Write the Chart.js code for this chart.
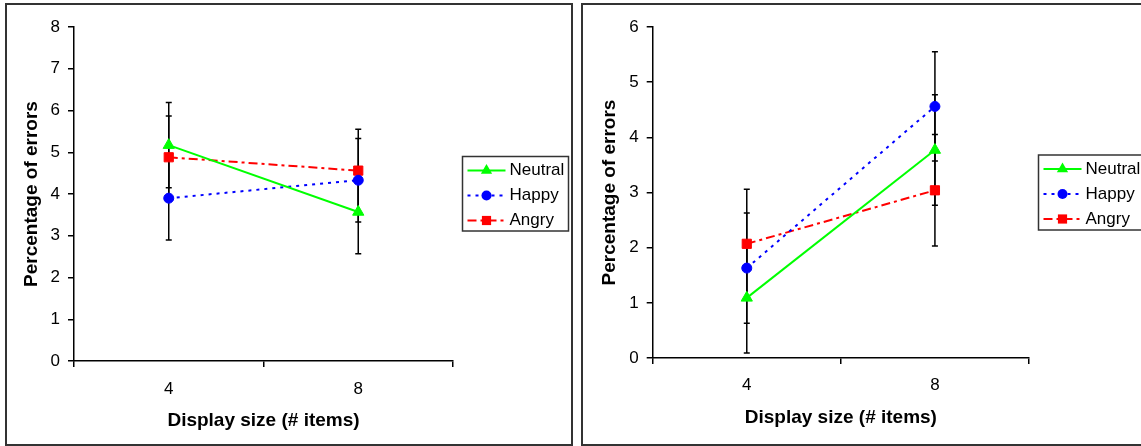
<!DOCTYPE html>
<html>
<head>
<meta charset="utf-8">
<script src="https://cdn.jsdelivr.net/npm/chart.js@4.4.1/dist/chart.umd.min.js"></script>
<style>
html, body { margin: 0; padding: 0; background: #fff; }
#wrap { position: relative; width: 1141px; height: 446px; overflow: hidden; }
.frame { position: absolute; border: 2px solid #333; box-sizing: border-box; }
.box { position: absolute; top: 0; height: 446px; }
</style>
</head>
<body>
<div id="wrap">
  <div class="frame" style="left:5px;top:3px;width:568px;height:443px"></div>
  <div class="frame" style="left:581px;top:3px;width:570px;height:443px"></div>
  <div class="box" style="left:0;width:576px"><canvas id="leftChart" width="576" height="446"></canvas></div>
  <div class="box" style="left:576px;width:565px"><canvas id="rightChart" width="565" height="446"></canvas></div>
</div>
<script>
// Data
const displaySizes = ['4', '8'];
const seriesNames = ['Neutral', 'Happy', 'Angry'];

const leftNeutral = [5.17, 3.57];
const leftHappy = [3.90, 4.33];
const leftAngry = [4.88, 4.56];
const leftNeutralErr = [1.02, 1.00];
const leftHappyErr = [1.00, 1.00];
const leftAngryErr = [0.99, 0.99];

const rightNeutral = [1.09, 3.77];
const rightHappy = [1.63, 4.56];
const rightAngry = [2.07, 3.04];
const rightNeutralErr = [1.00, 1.00];
const rightHappyErr = [1.00, 0.99];
const rightAngryErr = [0.99, 1.01];

const FONT = 'Arial, "Liberation Sans", sans-serif';
Chart.defaults.font.family = FONT;
Chart.defaults.color = '#000';

// Line look per series
const lineStyles = [
    { color: '#00ff00', dash: [], point: 'triangle', radius: 6.5 },
    { color: '#0000ff', dash: [3, 5], point: 'circle', radius: 5 },
    { color: '#ff0000', dash: [9, 4, 3, 4], point: 'rect', radius: 6.5 }
];

// Draw a marker by hand for the legend
function drawMarker(ctx, style, x, y, r, color) {
    ctx.fillStyle = color;
    ctx.beginPath();
    if (style === 'triangle') {
        ctx.moveTo(x, y - r);
        ctx.lineTo(x + r * 0.866, y + r * 0.5);
        ctx.lineTo(x - r * 0.866, y + r * 0.5);
        ctx.closePath();
    } else if (style === 'rect') {
        const s = r * Math.SQRT1_2;
        ctx.rect(x - s, y - s, 2 * s, 2 * s);
    } else {
        ctx.arc(x, y, r, 0, Math.PI * 2);
    }
    ctx.fill();
}

// Error bars under the lines
const errorBars = {
    id: 'errorBars',
    beforeDatasetsDraw(chart) {
        const ctx = chart.ctx;
        const y = chart.scales.y;
        ctx.save();
        ctx.strokeStyle = '#000';
        ctx.lineWidth = 1.5;
        chart.data.datasets.forEach((ds, i) => {
            const meta = chart.getDatasetMeta(i);
            meta.data.forEach((pt, j) => {
                const v = ds.data[j], e = ds.errors[j];
                const top = y.getPixelForValue(v + e);
                const bot = y.getPixelForValue(v - e);
                ctx.beginPath();
                ctx.moveTo(pt.x, top); ctx.lineTo(pt.x, bot);
                ctx.moveTo(pt.x - 3, top); ctx.lineTo(pt.x + 3, top);
                ctx.moveTo(pt.x - 3, bot); ctx.lineTo(pt.x + 3, bot);
                ctx.stroke();
            });
        });
        ctx.restore();
    }
};

// Boxed legend on the right
const boxLegend = {
    id: 'boxLegend',
    afterDraw(chart, args, opts) {
        const ctx = chart.ctx;
        ctx.save();
        ctx.strokeStyle = '#333';
        ctx.lineWidth = 1.5;
        ctx.strokeRect(opts.x, opts.y, opts.w, opts.h);
        chart.data.datasets.forEach((ds, i) => {
            const cy = opts.y + 14 + i * 25;
            const x0 = opts.x + 5, x1 = opts.x + 43, cx = (x0 + x1) / 2;
            ctx.strokeStyle = ds.borderColor;
            ctx.lineWidth = ds.borderWidth;
            ctx.setLineDash(ds.borderDash);
            ctx.beginPath();
            ctx.moveTo(x0, cy);
            ctx.lineTo(x1, cy);
            ctx.stroke();
            ctx.setLineDash([]);
            drawMarker(ctx, ds.pointStyle, cx, cy, ds.pointRadius, ds.borderColor);
            ctx.fillStyle = '#000';
            ctx.font = '17px ' + FONT;
            ctx.textBaseline = 'middle';
            ctx.fillText(ds.label, opts.x + 47, cy);
        });
        ctx.restore();
    }
};

function makeChart(id, values, errors, yMax, pos) {
    const datasets = seriesNames.map((name, i) => ({
        label: name,
        data: values[i],
        errors: errors[i],
        borderColor: lineStyles[i].color,
        backgroundColor: lineStyles[i].color,
        borderWidth: 2,
        borderDash: lineStyles[i].dash,
        pointStyle: lineStyles[i].point,
        pointRadius: lineStyles[i].radius,
        pointBorderWidth: 1,
        tension: 0
    }));

    return new Chart(document.getElementById(id), {
        type: 'line',
        data: { labels: displaySizes, datasets },
        options: {
            responsive: false,
            animation: false,
            devicePixelRatio: 1,
            layout: { padding: pos.padding },
            plugins: {
                legend: { display: false },
                tooltip: { enabled: false },
                boxLegend: pos.legend
            },
            scales: {
                x: {
                    offset: true,
                    grid: { offset: true, drawOnChartArea: false, color: '#000', tickLength: 6, lineWidth: 1.5 },
                    border: { color: '#000', width: 1.5 },
                    ticks: { font: { size: 17 }, padding: pos.xTickPad },
                    title: {
                        display: true,
                        text: 'Display size (# items)',
                        font: { size: 19, weight: 'bold' },
                        padding: { top: 0, bottom: 0 }
                    },
                    afterFit: (s) => { s.height = pos.xHeight; }
                },
                y: {
                    min: 0,
                    max: yMax,
                    grid: { drawOnChartArea: false, color: '#000', tickLength: 6, lineWidth: 1.5 },
                    border: { color: '#000', width: 1.5 },
                    ticks: { stepSize: 1, font: { size: 17 }, padding: 8 },
                    title: {
                        display: true,
                        text: 'Percentage of errors',
                        font: { size: 19, weight: 'bold' },
                        padding: { top: 0, bottom: 0 }
                    },
                    afterFit: (s) => { s.width = 54; }
                }
            }
        },
        plugins: [errorBars, boxLegend]
    });
}

makeChart('leftChart',
    [leftNeutral, leftHappy, leftAngry],
    [leftNeutralErr, leftHappyErr, leftAngryErr],
    8,
    {
        padding: { left: 20, top: 27, right: 123, bottom: 14 },
        xHeight: 71,
        xTickPad: 12,
        legend: { x: 462.5, y: 156.5, w: 106, h: 74.5 }
    });

makeChart('rightChart',
    [rightNeutral, rightHappy, rightAngry],
    [rightNeutralErr, rightHappyErr, rightAngryErr],
    6,
    {
        padding: { left: 22.7, top: 27, right: 112, bottom: 17 },
        xHeight: 71,
        xTickPad: 11,
        legend: { x: 462.5, y: 155, w: 106, h: 75 }
    });
</script>
</body>
</html>
